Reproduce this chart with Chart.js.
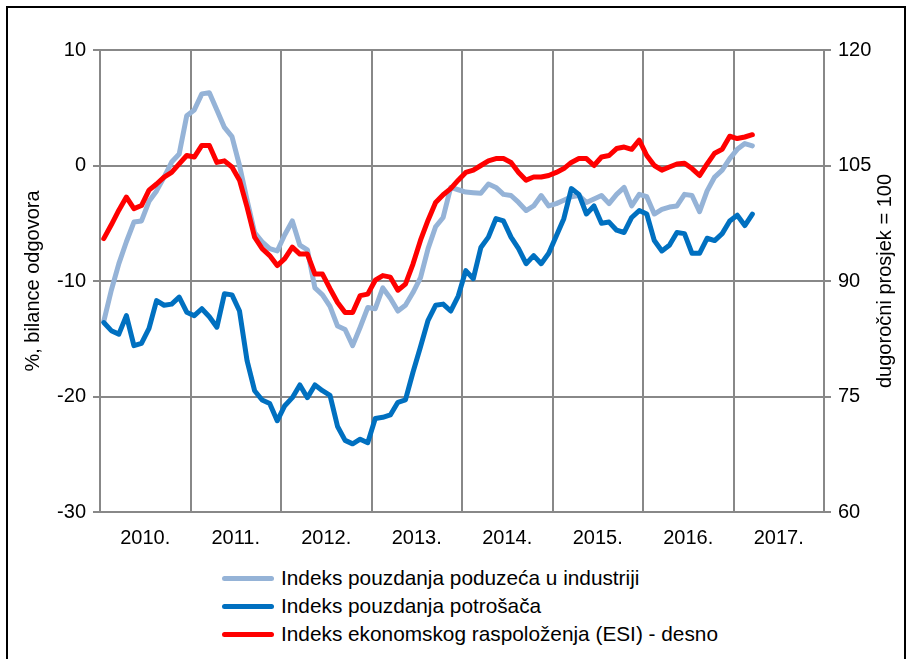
<!DOCTYPE html>
<html>
<head>
<meta charset="utf-8">
<script src="https://cdn.jsdelivr.net/npm/chart.js@4.4.1/dist/chart.umd.min.js"></script>
<style>
  body { margin: 0; background: #fff; font-family: "Liberation Sans", Arial, sans-serif; }
  #frame { position: absolute; left: 6px; top: 6px; width: 900px; height: 670px; border: 2px solid #000; box-sizing: border-box; }
  #chart { position: absolute; left: 0; top: 0; }
  #legend { position: absolute; left: 222px; top: 564px; }
  .item { display: flex; align-items: center; height: 28px; font-size: 20.8px; color: #000; }
  .swatch { width: 52px; height: 5px; border-radius: 3px; margin-right: 7px; }
</style>
</head>
<body>
<div id="frame"></div>
<canvas id="chart" width="908" height="560"></canvas>
<div id="legend"></div>
<script>
// monthly, Jan 2010 - Mar 2017
const years = ['2010.', '2011.', '2012.', '2013.', '2014.', '2015.', '2016.', '2017.'];

const industry = [
  -13.5, -10.8, -8.5, -6.6, -4.9, -4.8, -3.1, -2.2, -1.0, 0.3, 1.0, 4.3,
  4.8, 6.2, 6.3, 4.8, 3.3, 2.5, 0.0, -3.0, -5.8, -6.6, -7.2, -7.4,
  -6.0, -4.8, -6.9, -7.3, -10.6, -11.2, -12.2, -13.9, -14.2, -15.6, -14.0, -12.3,
  -12.4, -10.6, -11.5, -12.6, -12.1, -11.0, -9.7, -7.2, -5.3, -4.5, -1.9, -2.1,
  -2.3, -2.35, -2.4, -1.6, -1.9, -2.5, -2.6, -3.2, -3.9, -3.5, -2.6, -3.5,
  -3.3, -3.0, -2.7, -2.6, -3.2, -2.9, -2.6, -3.3, -2.5, -1.9, -3.5, -2.5,
  -2.7, -4.2, -3.8, -3.6, -3.5, -2.5, -2.6, -4.0, -2.2, -1.0, -0.4, 0.6,
  1.4, 1.9, 1.7
];

const consumers = [
  -13.6, -14.3, -14.6, -13.0, -15.6, -15.4, -14.1, -11.7, -12.1, -12.0, -11.4, -12.7,
  -13.0, -12.4, -13.1, -14.0, -11.1, -11.2, -12.6, -16.9, -19.5, -20.3, -20.6, -22.1,
  -20.8, -20.1, -19.0, -20.1, -19.0, -19.5, -19.9, -22.6, -23.8, -24.1, -23.7, -24.0,
  -21.9, -21.8, -21.6, -20.5, -20.3, -17.9, -15.7, -13.4, -12.1, -12.0, -12.6, -11.3,
  -9.1, -9.8, -7.1, -6.2, -4.6, -4.8, -6.2, -7.2, -8.5, -7.8, -8.5, -7.6,
  -6.1, -4.6, -2.0, -2.5, -4.2, -3.5, -5.0, -4.9, -5.6, -5.8, -4.5, -3.9,
  -4.2, -6.5, -7.4, -6.9, -5.8, -5.9, -7.6, -7.6, -6.3, -6.5, -5.9, -4.8,
  -4.3, -5.2, -4.2
];

const esi = [
  95.5, 97.3, 99.2, 100.9, 99.4, 99.8, 101.8, 102.6, 103.5, 104.1, 105.2, 106.3,
  106.1, 107.6, 107.6, 105.4, 105.6, 104.8, 103.1, 99.6, 95.7, 94.2, 93.3, 92.0,
  92.9, 94.4, 93.5, 93.5, 90.9, 90.9, 89.0, 87.2, 85.9, 85.9, 88.1, 88.3,
  90.1, 90.7, 90.5, 88.8, 89.6, 92.2, 95.3, 97.9, 100.2, 101.2, 102.0, 103.1,
  104.1, 104.4, 105.0, 105.6, 105.9, 105.9, 105.4, 104.1, 103.1, 103.5, 103.5, 103.7,
  104.1, 104.6, 105.4, 105.9, 105.9, 105.0, 106.1, 106.3, 107.2, 107.4, 107.1, 108.3,
  106.3, 105.0, 104.4, 104.8, 105.2, 105.3, 104.6, 103.7, 105.2, 106.6, 107.1, 108.8,
  108.5, 108.7, 109.0
];

const seriesNames = [
  'Indeks pouzdanja poduzeća u industriji',
  'Indeks pouzdanja potrošača',
  'Indeks ekonomskog raspoloženja (ESI) - desno'
];
const leftTitle = '%, bilance odgovora';
const rightTitle = 'dugoročni prosjek = 100';

const FONT = '"Liberation Sans", Arial, sans-serif';
const GRID = '#888888';

// month i sits in the middle of its slot
const toPoints = (arr) => arr.map((v, i) => ({ x: i + 0.5, y: v }));

const axisTitles = {
  id: 'axisTitles',
  afterDraw(chart) {
    const { ctx, chartArea } = chart;
    const midY = (chartArea.top + chartArea.bottom) / 2;
    ctx.save();
    ctx.font = `20px ${FONT}`;
    ctx.fillStyle = '#000';
    ctx.textAlign = 'center';
    ctx.textBaseline = 'middle';
    [[33, leftTitle], [885, rightTitle]].forEach(([x, t]) => {
      ctx.save();
      ctx.translate(x, midY);
      ctx.rotate(-Math.PI / 2);
      ctx.fillText(t, 0, 0);
      ctx.restore();
    });
    ctx.restore();
  }
};

const lineDs = (label, data, color, axis, order) => ({
  label, data: toPoints(data), yAxisID: axis, order,
  borderColor: color, backgroundColor: color,
  borderWidth: 5, pointRadius: 0, tension: 0,
  borderJoinStyle: 'round', borderCapStyle: 'round'
});

const chart = new Chart(document.getElementById('chart'), {
  type: 'line',
  data: {
    datasets: [
      lineDs(seriesNames[0], industry, '#95B3D7', 'y', 2),
      lineDs(seriesNames[1], consumers, '#0070C0', 'y', 1),
      lineDs(seriesNames[2], esi, '#FF0000', 'y2', 0)
    ]
  },
  options: {
    responsive: false,
    animation: false,
    layout: { padding: { top: 50, bottom: 8, left: 0, right: 0 } },
    plugins: { legend: { display: false }, tooltip: { enabled: false } },
    scales: {
      x: {
        type: 'linear', min: 0, max: 96,
        afterFit: (s) => { s.height = 40; },
        ticks: {
          stepSize: 6, autoSkip: false, maxRotation: 0, padding: 14,
          color: '#000', font: { size: 20, family: FONT },
          callback: (v) => (v % 12 === 6 ? years[(v - 6) / 12] : '')
        },
        grid: {
          drawTicks: false, lineWidth: 2,
          color: (c) => (c.tick && c.tick.value % 12 === 0 ? GRID : 'rgba(0,0,0,0)')
        },
        border: { color: GRID, width: 2 }
      },
      y: {
        position: 'left', min: -30, max: 10,
        afterFit: (s) => { s.width = 100; },
        ticks: { stepSize: 10, padding: 7, color: '#000', font: { size: 20, family: FONT } },
        grid: { color: GRID, lineWidth: 2, tickLength: 7 },
        border: { color: GRID, width: 2 }
      },
      y2: {
        position: 'right', min: 60, max: 120,
        afterFit: (s) => { s.width = 84; },
        ticks: { stepSize: 15, padding: 7, color: '#000', font: { size: 20, family: FONT } },
        grid: { drawOnChartArea: false, color: GRID, lineWidth: 2, tickLength: 7 },
        border: { color: GRID, width: 2 }
      }
    }
  },
  plugins: [axisTitles]
});

document.getElementById('legend').innerHTML = chart.data.datasets
  .map((d) => `<div class="item"><span class="swatch" style="background:${d.borderColor}"></span>${d.label}</div>`)
  .join('');
</script>
</body>
</html>
